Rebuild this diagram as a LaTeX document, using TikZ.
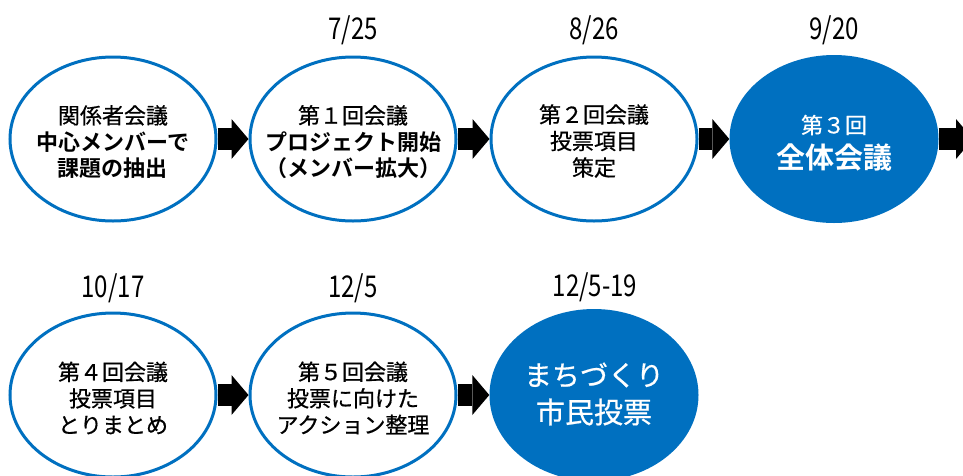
\documentclass[tikz,border=0pt]{standalone}
\usepackage{fontspec}
\setmainfont{Noto Sans CJK JP}[FakeBold=0.6]
\newfontfamily\bldfont{Noto Sans CJK JP Bold}
\newfontfamily\datefont{Noto Sans CJK JP}[FakeStretch=0.8]
\usetikzlibrary{shapes.geometric,arrows.meta}
\definecolor{ebl}{HTML}{0070C0}
\tikzset{
  ell/.style={ellipse, draw=ebl, line width=3pt, minimum width=206pt, minimum height=164pt, inner sep=0pt, fill=white},
  ellf/.style={ellipse, fill=ebl, minimum width=209pt, minimum height=168pt, inner sep=0pt},
  txt/.style={align=center, font=\fontsize{22}{26.5}\selectfont, inner sep=0pt},
  wtxt/.style={text=white, inner sep=0pt},
  datelbl/.style={font=\datefont\fontsize{30}{30}\selectfont, inner sep=0pt},
  blk/.style={line width=22pt, black, -{Triangle[width=40pt,length=17pt,line width=0pt]}}
}
\begin{document}
\begin{tikzpicture}[x=1pt,y=-1pt]
\useasboundingbox (0,0) rectangle (963,475);
% row 1
\node[ell]  (e1) at (113,139) {};
\node[ell]  (e2) at (353,139) {};
\node[ell]  (e3) at (594,139) {};
\node[ellf] (e4) at (834,139) {};
\coordinate (end1) at (973,139);
% row 2
\node[ell]  (e5) at (113,395) {};
\node[ell]  (e6) at (353,395) {};
\node[ellf, minimum height=172pt] (e7) at (594,395) {};
% connectors
\draw[blk] (e1.east) -- (e2.west);
\draw[blk] (e2.east) -- (e3.west);
\draw[blk] (e3.east) -- (e4.west);
\draw[blk] (e4.east) -- (end1);
\draw[blk] (e5.east) -- (e6.west);
\draw[blk] (e6.east) -- (e7.west);
% dates
\node[datelbl] (d2) at (353,30) {7/25};
\node[datelbl] (d3) at (594,30) {8/26};
\node[datelbl] (d4) at (834,30) {9/20};
\node[datelbl] (d5) at (113,288) {10/17};
\node[datelbl] (d6) at (353,288) {12/5};
\node[datelbl] (d7) at (595,287) {12/5-19};
% texts
\node[txt] (t1) at (113,142) {関係者会議\\\bldfont 中心メンバーで\\\bldfont 課題の抽出};
\node[txt] (t2) at (353,142) {第１回会議\\\bldfont プロジェクト開始\\\bldfont （メンバー拡大）};
\node[txt] (t3) at (594,141) {第２回会議\\投票項目\\策定};
\node[wtxt, font=\fontsize{22}{22}\selectfont] (t4a) at (834,125) {第３回};
\node[wtxt, font=\fontsize{29}{29}\bldfont] (t4b) at (834,157) {全体会議};
\node[txt] (t5) at (113,398) {第４回会議\\投票項目\\とりまとめ};
\node[txt] (t6) at (353,398) {第５回会議\\投票に向けた\\アクション整理};
\node[wtxt, font=\fontsize{28}{28}\selectfont] (t7a) at (594,375) {まちづくり};
\node[wtxt, font=\fontsize{29}{29}\selectfont] (t7b) at (594,412) {市民投票};
\end{tikzpicture}
\end{document}
